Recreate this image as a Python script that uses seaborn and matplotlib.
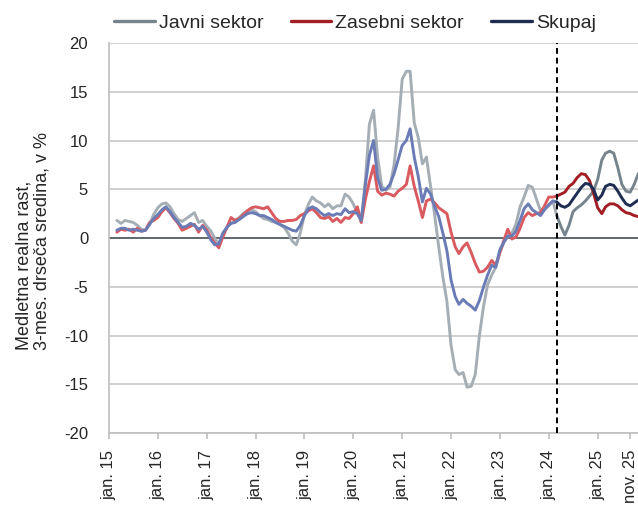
"""Medletna realna rast plač po sektorjih, 3-mesečna drseča sredina."""

import matplotlib

matplotlib.use("Agg")
import matplotlib.pyplot as plt
import pandas as pd
import seaborn as sns
from matplotlib.lines import Line2D


START = "2015-03-01"
BREAK = pd.Timestamp("2024-03-01")
SERIES = ["Javni sektor", "Zasebni sektor", "Skupaj"]

# monthly values, mar. 15 - nov. 25
JAVNI = [
    1.8, 1.5, 1.8, 1.7, 1.6, 1.3, 0.9, 0.8, 1.4, 2.4,
    3.1, 3.5, 3.6, 3.2, 2.5, 1.9, 1.7, 2.0, 2.3, 2.6,
    1.6, 1.8, 1.2, 0.7, 0.0, -0.7, 0.4, 1.1, 1.5, 1.8,
    2.1, 2.5, 2.8, 2.9, 2.7, 2.3, 2.0, 1.9, 1.7, 1.6,
    1.4, 1.1, 0.5, -0.3, -0.7, 0.5, 2.4, 3.5, 4.2, 3.8,
    3.6, 3.2, 3.5, 3.0, 3.3, 3.3, 4.5, 4.2, 3.5, 2.6,
    1.6, 6.0, 11.7, 13.1, 8.3, 5.3, 4.9, 5.2, 7.5, 11.2,
    16.3, 17.1, 17.1, 11.8, 10.3, 7.6, 8.3, 5.3, 2.3, -0.9,
    -4.0, -6.5, -11.0, -13.5, -14.0, -13.8, -15.3, -15.2, -14.0, -10.0,
    -7.0, -4.8, -3.8, -3.0, -1.5, -0.4, 0.1, 0.5, 1.4, 3.2,
    4.2, 5.4, 5.2, 4.0, 2.8, 3.0, 3.3, 3.8, 2.3, 1.2,
    0.3, 1.3, 2.7, 3.1, 3.4, 3.8, 4.3, 4.8, 6.0, 8.0,
    8.7, 8.9, 8.7, 7.2, 5.5, 4.8, 4.7, 5.5, 6.6,
]
ZASEBNI = [
    0.6, 0.9, 0.8, 0.9, 0.6, 1.0, 0.7, 0.8, 1.6, 1.8,
    2.1, 2.7, 3.1, 2.6, 2.0, 1.5, 0.8, 1.0, 1.2, 1.4,
    0.6, 1.3, 0.8, 0.0, -0.5, -1.0, 0.1, 1.1, 2.1, 1.8,
    2.0, 2.4, 2.8, 3.1, 3.2, 3.1, 3.0, 3.2, 2.6, 2.0,
    1.7, 1.7, 1.8, 1.8, 1.9, 2.3, 2.5, 2.8, 3.0, 2.6,
    2.1, 2.0, 2.2, 1.7, 2.0, 1.6, 2.1, 2.0, 2.5, 3.2,
    1.6, 4.0, 5.8, 7.4, 4.8, 4.4, 4.6, 4.5, 4.3, 4.8,
    5.1, 5.5, 7.4, 5.3, 3.8, 2.1, 3.8, 4.0, 3.6, 3.1,
    2.8, 2.5, 0.6, -0.9, -1.6, -0.9, -0.5, -1.5, -2.6, -3.5,
    -3.4, -3.0, -2.3, -2.8, -1.5, -0.2, 0.9, -0.1, 0.1, 1.0,
    2.1, 2.6, 2.3, 2.5, 2.6, 3.3, 4.2, 4.2, 4.3, 4.5,
    4.7, 5.3, 5.6, 6.2, 6.6, 6.5, 5.9, 4.6, 3.1, 2.5,
    3.2, 3.5, 3.5, 3.3, 2.9, 2.6, 2.5, 2.3, 2.2,
]
SKUPAJ = [
    0.8, 1.0, 1.0, 0.8, 0.9, 0.8, 0.7, 0.8, 1.4, 2.0,
    2.4, 2.9, 3.2, 2.7, 2.1, 1.6, 1.1, 1.2, 1.5, 1.3,
    0.9, 1.2, 0.6, -0.2, -0.7, -0.6, 0.5, 1.1, 1.5, 1.6,
    1.9, 2.2, 2.5, 2.6, 2.5, 2.3, 2.3, 2.1, 1.9, 1.6,
    1.4, 1.2, 1.0, 0.8, 0.7, 1.3, 2.3, 3.0, 3.2, 3.0,
    2.6, 2.3, 2.5, 2.3, 2.5, 2.4, 3.0, 2.6, 2.7, 2.5,
    1.8, 5.5, 8.5, 10.0, 6.2, 4.9, 5.0, 5.5, 6.6, 8.0,
    9.5, 10.0, 11.2, 8.3, 6.3, 3.7, 5.1, 4.5, 3.2, 2.2,
    0.5, -1.3, -4.3, -6.0, -6.8, -6.3, -6.7, -7.0, -7.4, -6.4,
    -5.0, -3.8, -2.8, -3.0, -1.2, -0.4, 0.2, 0.2, 0.7, 1.8,
    3.0, 3.5, 2.9, 2.6, 2.3, 2.9, 3.4, 3.8, 3.7, 3.3,
    3.15, 3.4, 4.0, 4.6, 5.2, 5.6, 5.5, 5.0, 3.9, 4.4,
    5.3, 5.5, 5.4, 4.8, 4.1, 3.5, 3.3, 3.6, 3.9,
]

TICK_DATES = [f"{y}-01-01" for y in range(2015, 2026)] + ["2025-09-01"]
TICK_LABELS = [f"jan. {y}" for y in range(15, 26)] + ["nov. 25"]
Y_TICKS = [-20, -15, -10, -5, 0, 5, 10, 15, 20]

LIGHT = {"Javni sektor": "#a6aeb5", "Zasebni sektor": "#d95b60", "Skupaj": "#6a7bb6"}
DARK = {"Javni sektor": "#76848d", "Zasebni sektor": "#a31d25", "Skupaj": "#1e2d50"}


def build_frame() -> pd.DataFrame:
    dates = pd.date_range(START, periods=len(JAVNI), freq="MS")
    rows = []
    for name, values in zip(SERIES, [JAVNI, ZASEBNI, SKUPAJ]):
        for date, value in zip(dates, values):
            if date <= BREAK:
                rows.append({"date": date, "value": value, "key": f"{name} (pred)"})
            if date >= BREAK:
                rows.append({"date": date, "value": value, "key": f"{name} (po)"})
    return pd.DataFrame(rows)


def main() -> None:
    sns.set_theme(style="white")
    plt.rcParams["font.family"] = ["Liberation Sans", "DejaVu Sans"]
    plt.rcParams["axes.unicode_minus"] = False

    df = build_frame()
    order = [f"{n} (pred)" for n in SERIES] + [f"{n} (po)" for n in SERIES]
    palette = {f"{n} (pred)": LIGHT[n] for n in SERIES}
    palette.update({f"{n} (po)": DARK[n] for n in SERIES})

    fig = plt.figure(figsize=(6.38, 5.09), dpi=100)
    ax = fig.add_axes([0.1708, 0.1493, 0.8337, 0.7662])

    ax.yaxis.grid(True, color="#c8c8c8", linewidth=1.2)
    ax.xaxis.grid(False)
    ax.set_axisbelow(True)
    ax.axhline(0, color="#596068", linewidth=1.3, zorder=1.5)

    sns.lineplot(data=df, x="date", y="value", hue="key", hue_order=order,
                 palette=palette, linewidth=2.1, errorbar=None, legend=False, ax=ax)

    ax.axvline(BREAK, color="black", linestyle=(0, (3, 2)), linewidth=1.4, zorder=3)

    ax.set_xlim(pd.Timestamp("2015-01-01"), pd.Timestamp("2025-11-20"))
    ax.set_ylim(-20, 20)
    ax.set_xticks(pd.to_datetime(TICK_DATES))
    ax.set_xticklabels(TICK_LABELS, rotation=90)
    ax.set_yticks(Y_TICKS)
    ax.set_yticklabels([str(v) for v in Y_TICKS])
    ax.tick_params(axis="x", direction="out", length=4, width=1.2, color="#bfbfbf",
                   labelsize=12, pad=8, bottom=True)
    ax.tick_params(axis="y", length=0, labelsize=12, pad=15)
    ax.set_xlabel("")
    ax.set_ylabel("")

    for side in ["top", "right"]:
        ax.spines[side].set_visible(False)
    for side in ["left", "bottom"]:
        ax.spines[side].set_color("#bfbfbf")
        ax.spines[side].set_linewidth(1.2)

    fig.text(33 / 638, 1 - 241 / 509, "Medletna realna rast,\n3-mes. drseča sredina, v %",
             rotation=90, ha="center", va="center", multialignment="left",
             fontsize=13, linespacing=1.1)

    handles = [Line2D([0], [0], color=DARK[n], linewidth=2.4) for n in SERIES]
    fig.legend(handles, SERIES, loc="center", bbox_to_anchor=(355 / 638, 1 - 23 / 509),
               ncol=3, frameon=False, fontsize=14, handlelength=2.1,
               handletextpad=0.2, columnspacing=1.4)

    fig.savefig("out.png", dpi=100)
    plt.close(fig)


if __name__ == "__main__":
    main()
